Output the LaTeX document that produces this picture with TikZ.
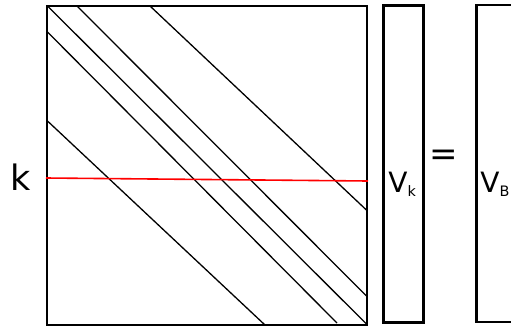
\documentclass[tikz,border=0pt]{standalone}
\usepackage{fontspec}
\setmainfont{DejaVu Sans}
\usetikzlibrary{positioning}

\newcommand{\vsub}[1]{\raisebox{-2pt}{\fontsize{7.2}{7.2}\selectfont #1}}

\begin{document}
\begin{tikzpicture}[
    x=0.5pt, y=-0.5pt,
    node distance=8pt,
    matbox/.style={rectangle, draw=black, line width=1pt, minimum width=160pt, minimum height=159.5pt, inner sep=0pt, outer sep=0pt},
    vecbox/.style={rectangle, draw=black, line width=1.2pt, minimum width=20pt, minimum height=158.5pt, inner sep=0pt, outer sep=0pt},
    band/.style={line width=0.65pt, color=black},
    rowline/.style={line width=0.8pt, color=red},
    lbl/.style={font=\fontsize{14}{14}\selectfont, inner sep=0pt}
]
    \useasboundingbox (0,0) rectangle (511,328);

    \node (mat) [matbox] at (207.5,165.5) {};
    \node (vk) [vecbox, right=8pt of mat, yshift=0.75pt] {};
    \node (eq) [lbl, font=\fontsize{17}{17}\selectfont] at (444,157.5) {=};
    \node (vb) [vecbox, minimum width=30pt, right=26.5pt of vk, yshift=0.25pt] {};

    % nonzero bands of the matrix
    \draw [band] (47.5,6) -- (367.5,325);
    \draw [band] (47.5,32) -- (337,323);
    \draw [band] (47.5,121) -- (265,325);
    \draw [band] (77,6) -- (367.5,297);
    \draw [band] (150,6) -- (367.5,211);

    % row k
    \node (krow) [lbl, font=\fontsize{17.5}{17.5}\selectfont, anchor=base] at (21,190) {k};
    \draw [rowline] (46,178) -- (368,181);

    \node (vklbl) [lbl, anchor=base west] at (388,192) {V\vsub{k}};
    \node (vblbl) [lbl, anchor=base west] at (480,192) {V\vsub{B}};
\end{tikzpicture}
\end{document}
